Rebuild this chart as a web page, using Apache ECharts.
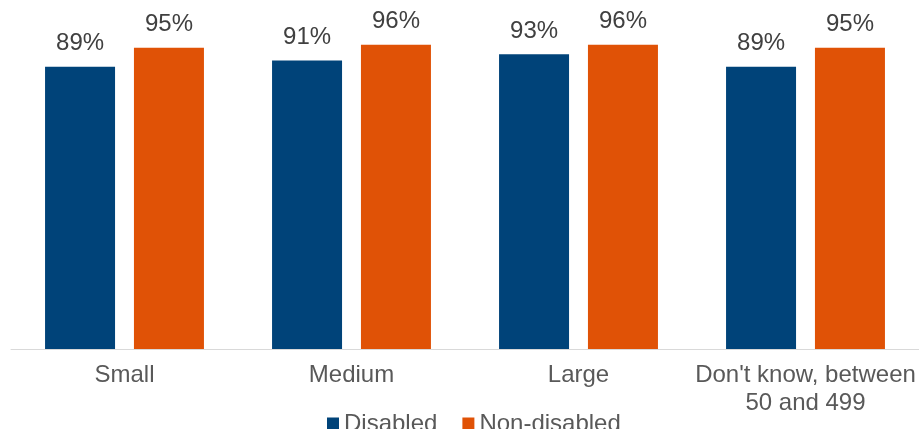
<!DOCTYPE html>
<html>
<head>
<meta charset="utf-8">
<script src="https://cdn.jsdelivr.net/npm/echarts@6/dist/echarts.min.js"></script>
<style>html,body{margin:0;padding:0;background:#fff}#c{width:919px;height:429px}</style>
</head>
<body>
<div id="c"></div>
<script>
const categories = ['Small', 'Medium', 'Large', "Don't know, between\n50 and 499"];
const disabled = [89, 91, 93, 89];
const nonDisabled = [95, 96, 96, 95];
const seriesNames = ['Disabled', 'Non-disabled'];

const chart = echarts.init(document.getElementById('c'), null, {renderer: 'canvas'});
const font = 'Arial, "Liberation Sans", sans-serif';
const labelCfg = {
  show: true, position: 'top', distance: 11,
  formatter: p => p.value + '%',
  color: '#404040', fontSize: 24, fontFamily: font
};
chart.setOption({
  animation: false,
  grid: {left: 11, right: 0, top: 32, bottom: 80},
  legend: {
    data: seriesNames, left: 322, top: 407,
    icon: 'rect', itemWidth: 12, itemHeight: 13, itemGap: 25,
    textStyle: {color: '#595959', fontSize: 24, fontFamily: font}
  },
  xAxis: {
    type: 'category', data: categories,
    axisLine: {lineStyle: {color: '#d9d9d9', width: 1}},
    axisTick: {show: false},
    axisLabel: {color: '#595959', fontSize: 24, fontFamily: font, margin: 12, lineHeight: 28, interval: 0}
  },
  yAxis: {type: 'value', min: 0, max: 100, show: false, splitLine: {show: false}},
  series: [
    {name: seriesNames[0], type: 'bar', data: disabled, barWidth: 70, barGap: '27%',
     itemStyle: {color: '#004379'}, label: labelCfg},
    {name: seriesNames[1], type: 'bar', data: nonDisabled, barWidth: 70, barGap: '27%',
     itemStyle: {color: '#E05206'}, label: labelCfg}
  ]
});
</script>
</body>
</html>
